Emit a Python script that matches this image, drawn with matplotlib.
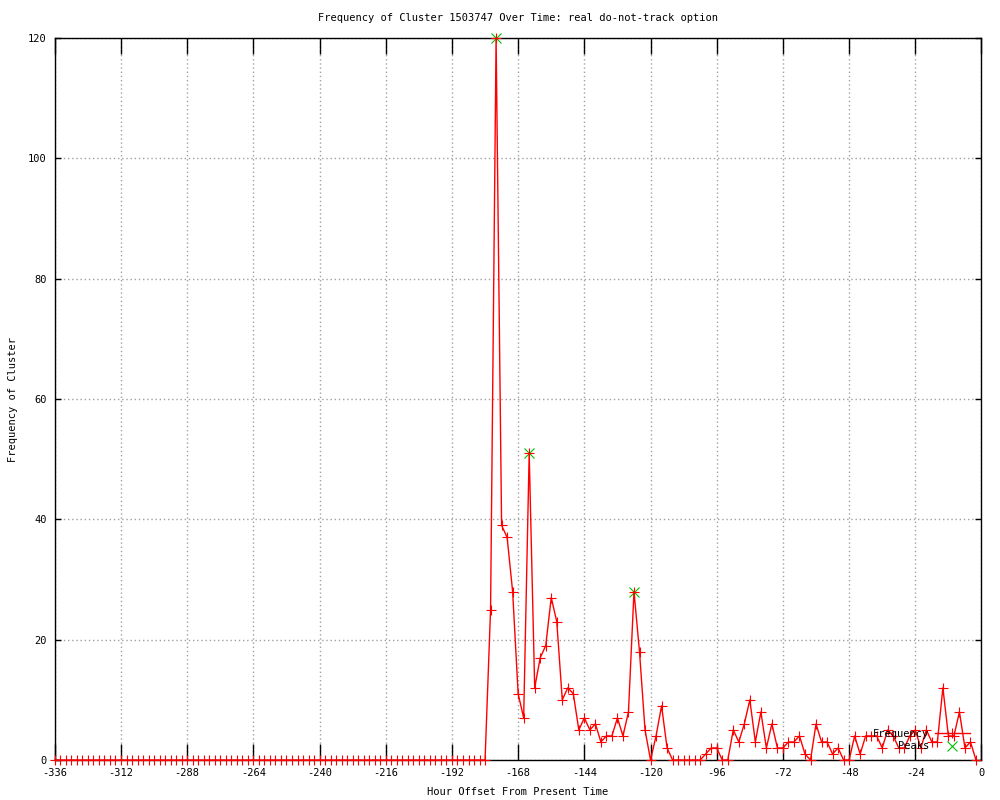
import matplotlib
matplotlib.use('Agg')
import matplotlib.pyplot as plt
import numpy as np

plt.rcParams['font.family'] = 'DejaVu Sans Mono'
plt.rcParams['font.size'] = 7.5
plt.rcParams['axes.unicode_minus'] = False

# hours before now, every 2 h
hours = np.arange(-336, 0, 2)

quiet = [0] * 79  # -336 .. -180
active = [25, 120, 39, 37, 28, 11, 7, 51, 12, 17,
          19, 27, 23, 10, 12, 11, 5, 7, 5, 6,
          3, 4, 4, 7, 4, 8, 28, 18, 5, 0,
          4, 9, 2, 0, 0, 0, 0, 0, 0, 1,
          2, 2, 0, 0, 5, 3, 6, 10, 3, 8,
          2, 6, 2, 2, 3, 3, 4, 1, 0, 6,
          3, 3, 1, 2, 0, 0, 4, 1, 4, 4,
          4, 2, 5, 4, 2, 2, 4, 5, 2, 5,
          3, 3, 12, 4, 4, 8, 2, 3, 0]  # -178 .. -2
freq = np.array(quiet + active)

peak_hours = [-176, -164, -126]
peak_vals = [120, 51, 28]

x_ticks = list(range(-336, 1, 24))
y_ticks = list(range(0, 121, 20))

fig = plt.figure(figsize=(10, 8), dpi=100)
ax = fig.add_axes([0.0548, 0.05, 0.9267, 0.9025])

ax.plot(peak_hours, peak_vals, linestyle='none', marker='x', color='#00c000',
        markersize=6.5, markeredgewidth=0.8, label='Peaks', clip_on=False, zorder=3)
ax.plot(hours, freq, color='red', linewidth=1, marker='+', markersize=6.5,
        markeredgewidth=0.8, label='Frequency', clip_on=False, zorder=4)

ax.set_xlim(-336, 0)
ax.set_ylim(0, 120)
ax.set_xticks(x_ticks)
ax.set_yticks(y_ticks)
ax.grid(True, color='#a0a0a0', linestyle=(0, (1, 2)), linewidth=1)
ax.tick_params(axis='x', direction='in', length=11.5, width=1, top=True, pad=6)
ax.tick_params(axis='y', direction='in', length=4, width=1, right=True, pad=6)
for s in ax.spines.values():
    s.set_linewidth(1)

fig.text(0.5175, 1 - 18 / 800, 'Frequency of Cluster 1503747 Over Time: real do-not-track option',
         ha='center', va='center')
fig.text(0.5175, 1 - 792 / 800, 'Hour Offset From Present Time', ha='center', va='center')
fig.text(0.013, 0.5, 'Frequency of Cluster', rotation=90, ha='center', va='center')

h, l = ax.get_legend_handles_labels()
ax.legend(h[::-1], l[::-1], loc='lower right', bbox_to_anchor=(0.9876, 0.012),
          frameon=False, markerfirst=False, handlelength=3.4, borderpad=0,
          borderaxespad=0, labelspacing=0.25, handletextpad=0.5)

fig.savefig('out.png', dpi=100)
